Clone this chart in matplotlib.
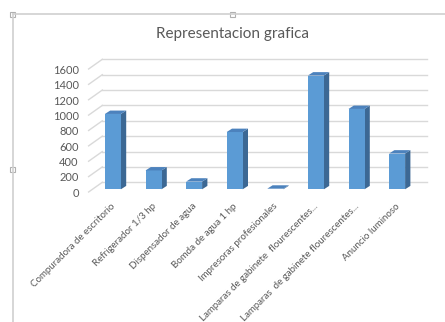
import numpy as np
import matplotlib
matplotlib.use("Agg")
import matplotlib.pyplot as plt
from matplotlib.patches import Polygon, Rectangle
from matplotlib.lines import Line2D
from matplotlib.transforms import ScaledTranslation

categories = [
    "Compuradora de escritorio",
    "Refrigerador 1/3 hp",
    "Dispensador de agua",
    "Bomda de agua 1 hp",
    "Impresoras profesionales",
    "Lamparas de gabinete  flourescentes...",
    "Lamparas  de gabinete flourescentes...",
    "Anuncio luminoso",
]
values = [980, 245, 100, 745, 8, 1480, 1045, 465]
yticks = [0, 200, 400, 600, 800, 1000, 1200, 1400, 1600]

plt.rcParams['font.family'] = ['Lato', 'DejaVu Sans']
text_gray = '#595959'

fig = plt.figure(figsize=(4.45, 3.22), dpi=100)
W, H = 445, 322

# axes = front plane of the columns (pixel layout of the reference)
x0, x1 = 92.6, 417.4
ybot, ytop = 189.3, 66.3
ax = fig.add_axes([x0 / W, 1 - ybot / H, (x1 - x0) / W, (ybot - ytop) / H])
ax.set_xlim(0, len(categories))
ax.set_ylim(0, 1600)
for s in ax.spines.values():
    s.set_visible(False)

px_x = (x1 - x0) / len(categories)     # pixels per category
px_y = (ybot - ytop) / 1600            # pixels per unit

# 3d offsets in pixels
back_dx, back_dy = 9.7, 7.0       # back wall relative to bar front
front_dx, front_dy = -4.0, -2.7   # front edge relative to bar front
depth_dx, depth_dy = 5.3, 3.4     # column depth

def to_data(dx, dy):
    return dx / px_x, dy / px_y

bdx, bdy = to_data(back_dx, back_dy)
fdx, fdy = to_data(front_dx, front_dy)
ddx, ddy = to_data(depth_dx, depth_dy)

grid_c = '#D9D9D9'
n = len(categories)
for v in yticks:
    ax.add_line(Line2D([bdx, n + bdx], [v + bdy, v + bdy], color=grid_c, lw=1.0, clip_on=False, zorder=1))
    ax.add_line(Line2D([fdx, bdx], [v + fdy, v + bdy], color=grid_c, lw=1.0, clip_on=False, zorder=1))

xpos = np.arange(n) + 0.5
width = 16 / px_x
front_c, side_c, top_c = '#5B9BD5', '#3C6894', '#4C82BD'
ax.bar(xpos, values, width=width, color=front_c, zorder=3, clip_on=False)
for xc, v in zip(xpos, values):
    xl, xr = xc - width / 2, xc + width / 2
    ax.add_patch(Polygon([(xr, 0), (xr + ddx, ddy), (xr + ddx, v + ddy), (xr, v)],
                         closed=True, facecolor=side_c, edgecolor='none', zorder=2, clip_on=False))
    ax.add_patch(Polygon([(xl, v), (xl + ddx, v + ddy), (xr + ddx, v + ddy), (xr, v)],
                         closed=True, facecolor=top_c, edgecolor='none', zorder=4, clip_on=False))

ax.set_yticks(yticks)
ax.set_yticklabels([str(v) for v in yticks], fontsize=8, color=text_gray)
ax.tick_params(axis='y', length=0, pad=10)
for lab in ax.get_yticklabels():
    lab.set_transform(lab.get_transform() + ScaledTranslation(0, -3 / 100, fig.dpi_scale_trans))

ax.set_xticks(xpos)
ax.set_xticklabels(categories, fontsize=7, color=text_gray, rotation=45,
                   ha='right', rotation_mode='anchor')
ax.tick_params(axis='x', length=0, pad=9)
for lab in ax.get_xticklabels():
    lab.set_transform(lab.get_transform() + ScaledTranslation(-2 / 100, 0, fig.dpi_scale_trans))

fig.text(233 / W, 1 - 34 / H, "Representacion grafica", ha='center', va='center',
         fontsize=11, color=text_gray)

# chart frame and handles
frame_c = '#D0D0D0'
fig.add_artist(Line2D([13 / W, 1], [1 - 14 / H, 1 - 14 / H], color=frame_c, lw=1.2))
fig.add_artist(Line2D([13 / W, 13 / W], [0, 1 - 14 / H], color=frame_c, lw=1.2))
for hx, hy in [(12, 14), (232, 14), (12, 169)]:
    fig.add_artist(Rectangle(((hx - 2.5) / W, 1 - (hy + 2.5) / H), 5 / W, 5 / H,
                             facecolor='white', edgecolor='#B0B0B0', lw=0.8))

fig.savefig("out.png", dpi=100)
